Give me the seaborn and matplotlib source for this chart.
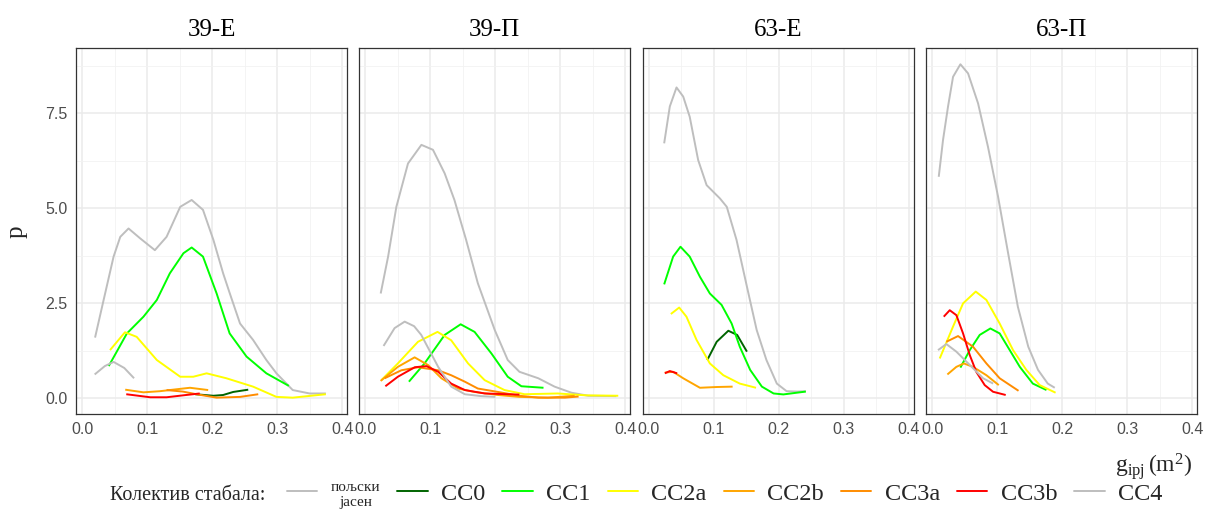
import numpy as np
import pandas as pd
import matplotlib
matplotlib.use("Agg")
import matplotlib.pyplot as plt
from matplotlib.lines import Line2D
from matplotlib.ticker import MultipleLocator
import seaborn as sns

# ---- data (x = g_ipj in m2, y = p) ----
panels = ["39-Е", "39-П", "63-Е", "63-П"]
groups = ["пољски\nјасен", "CC0", "CC1", "CC2a", "CC2b", "CC3a", "CC3b", "CC4"]
colors = ["#BEBEBE", "#006400", "#00FF00", "#FFFF00", "#FFA500", "#FF8C00", "#FF0000", "#BEBEBE"]

# 39-Е
e39_all_x = [0.020, 0.0332, 0.0485, 0.0588, 0.0715, 0.0894, 0.112, 0.130, 0.151, 0.1686, 0.186, 0.202, 0.217, 0.2273, 0.243, 0.263, 0.2835, 0.299, 0.324, 0.350, 0.375]
e39_all_y = [1.60, 2.59, 3.73, 4.25, 4.47, 4.21, 3.90, 4.25, 5.04, 5.22, 4.96, 4.17, 3.29, 2.76, 1.97, 1.54, 1.01, 0.66, 0.22, 0.13, 0.13]
e39_cc0_x = [0.174, 0.202, 0.217, 0.2325, 0.2556]
e39_cc0_y = [0.11, 0.07, 0.09, 0.17, 0.23]
e39_cc1_x = [0.041, 0.069, 0.0945, 0.115, 0.135, 0.156, 0.1686, 0.186, 0.207, 0.227, 0.253, 0.2835, 0.318]
e39_cc1_y = [0.85, 1.71, 2.15, 2.59, 3.29, 3.82, 3.97, 3.73, 2.76, 1.71, 1.10, 0.66, 0.33]
e39_cc2a_x = [0.043, 0.066, 0.084, 0.115, 0.151, 0.171, 0.1916, 0.222, 0.263, 0.299, 0.324, 0.375]
e39_cc2a_y = [1.27, 1.74, 1.62, 1.01, 0.57, 0.57, 0.66, 0.53, 0.31, 0.04, 0.02, 0.11]
e39_cc2b_x = [0.0664, 0.0945, 0.120, 0.145, 0.166, 0.194]
e39_cc2b_y = [0.23, 0.16, 0.19, 0.24, 0.28, 0.22]
e39_cc3a_x = [0.130, 0.155, 0.176, 0.207, 0.243, 0.271]
e39_cc3a_y = [0.22, 0.18, 0.11, 0.02, 0.04, 0.11]
e39_cc3b_x = [0.068, 0.105, 0.130, 0.155, 0.181]
e39_cc3b_y = [0.11, 0.03, 0.03, 0.08, 0.13]
e39_cc4_x = [0.0194, 0.035, 0.0485, 0.065, 0.080]
e39_cc4_y = [0.63, 0.85, 0.96, 0.80, 0.53]

# 39-П
p39_all_x = [0.0236, 0.035, 0.0477, 0.0656, 0.0862, 0.104, 0.122, 0.137, 0.155, 0.173, 0.199, 0.219, 0.237, 0.266, 0.291, 0.317, 0.343, 0.386]
p39_all_y = [2.76, 3.73, 5.04, 6.18, 6.67, 6.54, 5.92, 5.22, 4.17, 3.03, 1.80, 1.01, 0.70, 0.53, 0.31, 0.15, 0.07, 0.06]
p39_cc1_x = [0.067, 0.091, 0.122, 0.1466, 0.168, 0.194, 0.219, 0.240, 0.274]
p39_cc1_y = [0.44, 0.92, 1.67, 1.95, 1.75, 1.18, 0.57, 0.32, 0.28]
p39_cc2a_x = [0.0246, 0.050, 0.081, 0.111, 0.132, 0.158, 0.1835, 0.214, 0.245, 0.296, 0.340, 0.389]
p39_cc2a_y = [0.48, 0.92, 1.49, 1.75, 1.53, 0.92, 0.48, 0.22, 0.11, 0.13, 0.08, 0.07]
p39_cc2b_x = [0.0235, 0.050, 0.0758, 0.0963, 0.117, 0.1425, 0.168, 0.204, 0.237, 0.281, 0.322]
p39_cc2b_y = [0.46, 0.83, 1.08, 0.88, 0.53, 0.26, 0.17, 0.09, 0.04, 0.02, 0.07]
p39_cc3a_x = [0.0297, 0.0554, 0.081, 0.112, 0.132, 0.153, 0.173, 0.204, 0.237, 0.266, 0.307, 0.328]
p39_cc3a_y = [0.53, 0.74, 0.82, 0.74, 0.61, 0.44, 0.26, 0.17, 0.07, 0.02, 0.02, 0.05]
p39_cc3b_x = [0.0308, 0.050, 0.076, 0.094, 0.112, 0.132, 0.153, 0.1835, 0.237]
p39_cc3b_y = [0.32, 0.57, 0.82, 0.85, 0.70, 0.39, 0.22, 0.13, 0.10]
p39_cc4_x = [0.028, 0.045, 0.0605, 0.075, 0.086, 0.112, 0.132, 0.153, 0.178, 0.200]
p39_cc4_y = [1.38, 1.85, 2.02, 1.90, 1.67, 0.83, 0.31, 0.11, 0.06, 0.04]

# 63-Е
e63_all_x = [0.0237, 0.0324, 0.0427, 0.053, 0.063, 0.076, 0.089, 0.1095, 0.120, 0.135, 0.151, 0.166, 0.181, 0.197, 0.212, 0.228, 0.2416]
e63_all_y = [6.71, 7.68, 8.18, 7.94, 7.41, 6.27, 5.61, 5.26, 5.04, 4.17, 2.94, 1.80, 1.01, 0.39, 0.19, 0.18, 0.19]
e63_cc0_x = [0.090, 0.1045, 0.1224, 0.136, 0.151]
e63_cc0_y = [1.01, 1.49, 1.78, 1.67, 1.23]
e63_cc1_x = [0.0237, 0.0375, 0.0488, 0.063, 0.0787, 0.094, 0.112, 0.1275, 0.140, 0.156, 0.174, 0.192, 0.207, 0.2416]
e63_cc1_y = [3.00, 3.73, 3.99, 3.73, 3.20, 2.76, 2.46, 1.97, 1.36, 0.75, 0.31, 0.13, 0.105, 0.18]
e63_cc2a_x = [0.034, 0.0468, 0.058, 0.0735, 0.094, 0.1147, 0.140, 0.165]
e63_cc2a_y = [2.22, 2.39, 2.15, 1.54, 0.92, 0.61, 0.39, 0.28]
e63_cc2b_x = [0.0247, 0.0375, 0.053, 0.0787, 0.1045, 0.129]
e63_cc2b_y = [0.68, 0.70, 0.53, 0.28, 0.30, 0.31]
e63_cc3b_x = [0.0247, 0.0324, 0.0437]
e63_cc3b_y = [0.66, 0.72, 0.66]

# 63-П
p63_all_x = [0.0103, 0.0169, 0.0246, 0.0323, 0.0436, 0.0554, 0.0708, 0.086, 0.1015, 0.117, 0.132, 0.148, 0.163, 0.178, 0.1887]
p63_all_y = [5.83, 6.80, 7.68, 8.46, 8.79, 8.55, 7.76, 6.62, 5.31, 3.82, 2.41, 1.36, 0.75, 0.39, 0.28]
p63_cc1_x = [0.0436, 0.058, 0.0733, 0.0897, 0.104, 0.1195, 0.135, 0.155, 0.176]
p63_cc1_y = [0.81, 1.27, 1.67, 1.84, 1.71, 1.27, 0.83, 0.39, 0.22]
p63_cc2a_x = [0.0118, 0.0323, 0.0477, 0.0672, 0.0836, 0.104, 0.1246, 0.145, 0.1656, 0.190]
p63_cc2a_y = [1.05, 1.89, 2.50, 2.81, 2.59, 1.97, 1.27, 0.75, 0.35, 0.15]
p63_cc2b_x = [0.0236, 0.0374, 0.049, 0.063, 0.0836, 0.1026]
p63_cc2b_y = [0.63, 0.83, 0.92, 0.83, 0.61, 0.35]
p63_cc3a_x = [0.022, 0.040, 0.063, 0.0836, 0.104, 0.133]
p63_cc3a_y = [1.49, 1.64, 1.36, 0.92, 0.53, 0.20]
p63_cc3b_x = [0.018, 0.0272, 0.0374, 0.0477, 0.058, 0.068, 0.081, 0.0938, 0.1133]
p63_cc3b_y = [2.15, 2.32, 2.19, 1.71, 1.14, 0.70, 0.35, 0.175, 0.09]
p63_cc4_x = [0.0092, 0.022, 0.0374, 0.058, 0.0785, 0.094]
p63_cc4_y = [1.27, 1.43, 1.23, 0.88, 0.53, 0.39]

series = [
    ("39-Е", groups[0], e39_all_x, e39_all_y), ("39-Е", "CC0", e39_cc0_x, e39_cc0_y),
    ("39-Е", "CC1", e39_cc1_x, e39_cc1_y), ("39-Е", "CC2a", e39_cc2a_x, e39_cc2a_y),
    ("39-Е", "CC2b", e39_cc2b_x, e39_cc2b_y), ("39-Е", "CC3a", e39_cc3a_x, e39_cc3a_y),
    ("39-Е", "CC3b", e39_cc3b_x, e39_cc3b_y), ("39-Е", "CC4", e39_cc4_x, e39_cc4_y),
    ("39-П", groups[0], p39_all_x, p39_all_y), ("39-П", "CC1", p39_cc1_x, p39_cc1_y),
    ("39-П", "CC2a", p39_cc2a_x, p39_cc2a_y), ("39-П", "CC2b", p39_cc2b_x, p39_cc2b_y),
    ("39-П", "CC3a", p39_cc3a_x, p39_cc3a_y), ("39-П", "CC3b", p39_cc3b_x, p39_cc3b_y),
    ("39-П", "CC4", p39_cc4_x, p39_cc4_y),
    ("63-Е", groups[0], e63_all_x, e63_all_y), ("63-Е", "CC0", e63_cc0_x, e63_cc0_y),
    ("63-Е", "CC1", e63_cc1_x, e63_cc1_y), ("63-Е", "CC2a", e63_cc2a_x, e63_cc2a_y),
    ("63-Е", "CC2b", e63_cc2b_x, e63_cc2b_y), ("63-Е", "CC3b", e63_cc3b_x, e63_cc3b_y),
    ("63-П", groups[0], p63_all_x, p63_all_y), ("63-П", "CC1", p63_cc1_x, p63_cc1_y),
    ("63-П", "CC2a", p63_cc2a_x, p63_cc2a_y), ("63-П", "CC2b", p63_cc2b_x, p63_cc2b_y),
    ("63-П", "CC3a", p63_cc3a_x, p63_cc3a_y), ("63-П", "CC3b", p63_cc3b_x, p63_cc3b_y),
    ("63-П", "CC4", p63_cc4_x, p63_cc4_y),
]

rows = []
for panel, grp, xs, ys in series:
    for x, y in zip(xs, ys):
        rows.append({"panel": panel, "group": grp, "x": x, "y": y})
df = pd.DataFrame(rows)
palette = dict(zip(groups, colors))

sns.set_theme(style="white")
plt.rcParams["font.family"] = ["Liberation Serif", "DejaVu Serif"]
plt.rcParams["mathtext.fontset"] = "custom"
plt.rcParams["mathtext.rm"] = "Liberation Serif"
plt.rcParams["mathtext.it"] = "Liberation Serif"

fig = plt.figure(figsize=(12.09, 5.13), dpi=100)
W, H = 1209, 513
lefts = [76, 359.3, 642.7, 926]
pw, top, bot = 271, 48.3, 414

for i, panel in enumerate(panels):
    ax = fig.add_axes([lefts[i] / W, (H - bot) / H, pw / W, (bot - top) / H])
    ax.set_axisbelow(True)
    ax.xaxis.set_major_locator(MultipleLocator(0.1))
    ax.xaxis.set_minor_locator(MultipleLocator(0.05))
    ax.yaxis.set_major_locator(MultipleLocator(2.5))
    ax.yaxis.set_minor_locator(MultipleLocator(1.25))
    ax.grid(which="major", color="#EBEBEB", lw=1.1)
    ax.grid(which="minor", color="#F2F2F2", lw=0.6)
    sub = df[df["panel"] == panel]
    sns.lineplot(data=sub, x="x", y="y", hue="group", hue_order=groups, palette=palette,
                 estimator=None, sort=True, legend=False, lw=1.4, ax=ax,
                 solid_joinstyle="round", solid_capstyle="butt")
    ax.set_xlim(-0.0093, 0.4075)
    ax.set_ylim(-0.41, 9.21)
    ax.set_xlabel("")
    ax.set_ylabel("")
    for s in ax.spines.values():
        s.set_color("#333333")
        s.set_linewidth(0.9)
    ax.tick_params(which="major", direction="out", length=3.5, width=0.9, color="#333333",
                   labelcolor="#4D4D4D", labelsize=11.5, pad=2.5)
    ax.tick_params(which="minor", length=0)
    ax.set_xticks([0.0, 0.1, 0.2, 0.3, 0.4])
    ax.set_xticklabels(["0.0", "0.1", "0.2", "0.3", "0.4"], family="Liberation Sans")
    if i == 0:
        ax.set_yticks([0.0, 2.5, 5.0, 7.5])
        ax.set_yticklabels(["0.0", "2.5", "5.0", "7.5"], family="Liberation Sans")
    else:
        ax.tick_params(axis="y", which="both", left=False, labelleft=False)
    ax.set_title(panel, fontsize=18, pad=9, color="black")

fig.text(17 / W, 1 - 232 / H, "p", fontsize=18, rotation=90, ha="center", va="center")
fig.text(1192 / W, 1 - 466 / H, r"$\mathrm{g_{ipj}\,(m^2)}$", fontsize=17, ha="right", va="center")

fig.text(110 / W, 1 - 495 / H, "Колектив стабала:", fontsize=14.5, ha="left", va="center")
handles = [Line2D([0], [0], color=c, lw=1.4) for c in colors]
leg = fig.legend(handles, groups, loc="center left", bbox_to_anchor=(287 / W, 1 - 495 / H),
                 ncol=8, frameon=False, fontsize=17.5, handlelength=1.25, handletextpad=0.55,
                 columnspacing=0.7, borderpad=0, borderaxespad=0)
leg.get_texts()[0].set_fontsize(11)
leg.get_texts()[0].set_multialignment("center")

fig.savefig("out.png", dpi=100)
